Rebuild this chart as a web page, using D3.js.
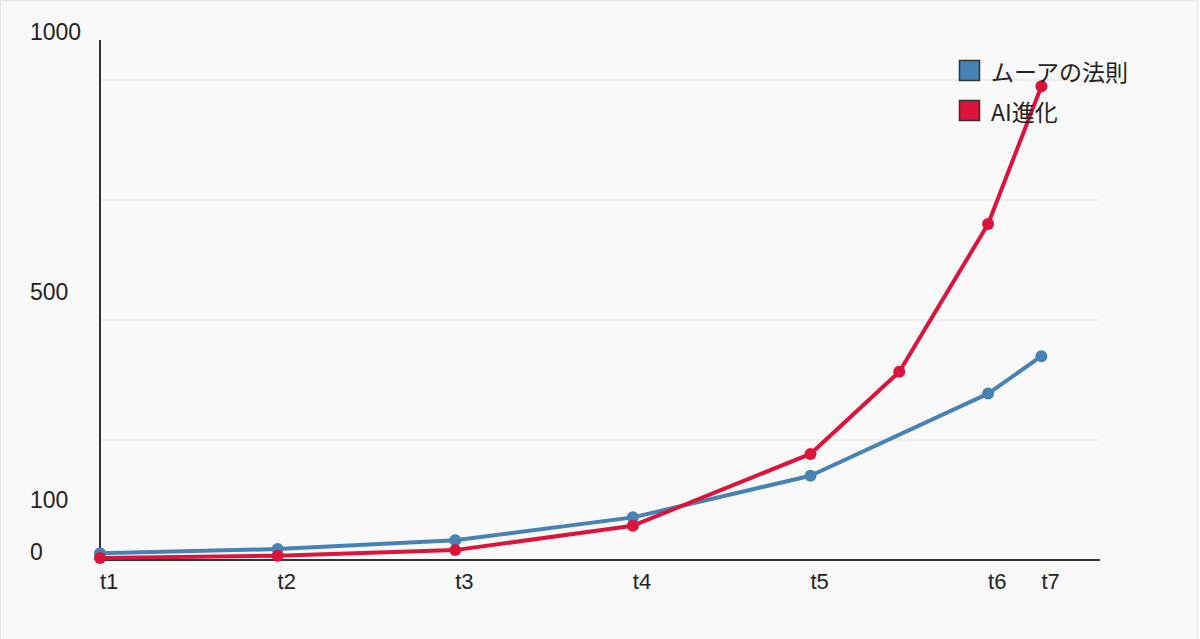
<!DOCTYPE html>
<html>
<head>
<meta charset="utf-8">
<script src="https://cdn.jsdelivr.net/npm/d3@7/dist/d3.min.js"></script>
<style>
  html, body { margin: 0; padding: 0; background: #ffffff; }
  svg { display: block; }
</style>
</head>
<body>
<svg id="chart" width="1200" height="639"></svg>
<script>
// ---- data ----
const categories = ["t1", "t2", "t3", "t4", "t5", "t6", "t7"];
const categoryPositions = [0, 1, 2, 3, 4, 5, 5.3];
const yTickLabels = [0, 100, 500, 1000];
const gridValues = [230.8, 461.5, 692.3, 923.1];

const mooreX = [0, 1, 2, 3, 4, 5, 5.3];
const mooreValues = [13, 21, 38, 82, 162, 320, 392];

const aiX = [0, 1, 2, 3, 4, 4.5, 5, 5.3];
const aiValues = [4, 8, 19, 66, 204, 362, 646, 911];

const seriesNames = ["ムーアの法則", "AI進化"];
const seriesColors = ["#4682b4", "#dc143c"];

// ---- layout ----
const svg = d3.select("#chart");
const plotLeft = 100, plotRight = 1100, plotTop = 40, plotBottom = 560;

svg.append("rect")
  .attr("x", 0.5).attr("y", 0.5)
  .attr("width", 1197).attr("height", 700)
  .attr("fill", "#f9f9f9")
  .attr("stroke", "#e6e6e6");

const x = d3.scaleLinear().domain([0, 5.63]).range([plotLeft, plotRight]);
const y = d3.scaleLinear().domain([0, 1000]).range([plotBottom, plotTop]);

// grid
svg.append("g").selectAll("line").data(gridValues).join("line")
  .attr("x1", plotLeft).attr("x2", plotRight)
  .attr("y1", d => y(d)).attr("y2", d => y(d))
  .attr("stroke", "#e2e2e2").attr("stroke-width", 1);

// y labels
svg.append("g").selectAll("text").data(yTickLabels).join("text")
  .attr("x", 30).attr("y", d => y(d))
  .attr("font-family", "'Liberation Sans', Arial, sans-serif")
  .attr("font-size", 23)
  .attr("fill", "#222")
  .text(d => d);

// x labels
svg.append("g").selectAll("text").data(categories).join("text")
  .attr("x", (d, i) => x(categoryPositions[i]))
  .attr("y", 589)
  .attr("font-family", "'Liberation Sans', Arial, sans-serif")
  .attr("font-size", 22)
  .attr("fill", "#222")
  .text(d => d);

// axes lines
svg.append("line")
  .attr("x1", plotLeft).attr("x2", plotLeft).attr("y1", plotTop).attr("y2", plotBottom)
  .attr("stroke", "#333").attr("stroke-width", 2);
svg.append("line")
  .attr("x1", plotLeft).attr("x2", plotRight).attr("y1", plotBottom).attr("y2", plotBottom)
  .attr("stroke", "#333").attr("stroke-width", 2);

// series
const series = [
  { name: seriesNames[0], color: seriesColors[0], pts: mooreX.map((xv, i) => [xv, mooreValues[i]]) },
  { name: seriesNames[1], color: seriesColors[1], pts: aiX.map((xv, i) => [xv, aiValues[i]]) }
];

const line = d3.line().x(d => x(d[0])).y(d => y(d[1]));

series.forEach(s => {
  const g = svg.append("g");
  g.append("path")
    .attr("d", line(s.pts))
    .attr("fill", "none")
    .attr("stroke", s.color)
    .attr("stroke-width", 4)
    .attr("stroke-linejoin", "round");
  g.selectAll("circle").data(s.pts).join("circle")
    .attr("cx", d => x(d[0])).attr("cy", d => y(d[1]))
    .attr("r", 6)
    .attr("fill", s.color);
});

// legend
const legend = svg.append("g");
series.forEach((s, i) => {
  const ly = 60 + i * 40;
  legend.append("rect")
    .attr("x", 959.5).attr("y", ly + 0.5)
    .attr("width", 20).attr("height", 20)
    .attr("fill", s.color)
    .attr("stroke", "#333").attr("stroke-width", 1.5);
  legend.append("text")
    .attr("x", 991).attr("y", ly + 11)
    .attr("dominant-baseline", "central")
    .attr("font-family", "'Noto Sans CJK JP', 'Noto Sans', sans-serif")
    .attr("font-size", 23)
    .attr("fill", "#222")
    .text(s.name);
});
</script>
</body>
</html>
